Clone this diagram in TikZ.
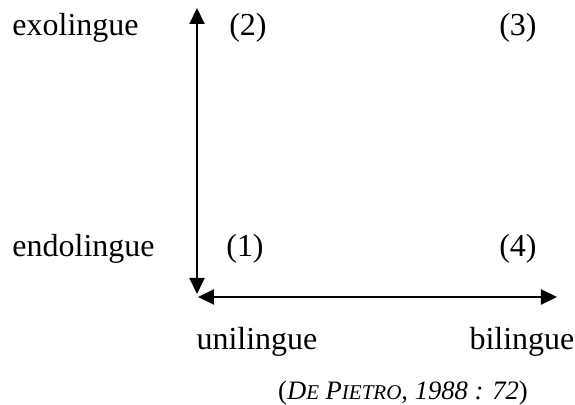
\documentclass[tikz,border=0pt]{standalone}
\usepackage{fontspec}
\setmainfont{Liberation Serif}
\usetikzlibrary{arrows.meta}

\begin{document}
\begin{tikzpicture}[x=0.5pt,y=-0.5pt,font=\fontsize{16}{19}\selectfont,
  axe/.style={{Triangle[length=8pt,width=7.5pt]}-{Triangle[length=8pt,width=7.5pt]}, line width=1pt}]
\useasboundingbox (0,0) rectangle (575,405);

% axes
\coordinate (ytop) at (197,8);
\coordinate (ybot) at (197,294);
\coordinate (xleft) at (198,297);
\coordinate (xright) at (557,297);
\draw[axe] (ytop) -- (ybot);
\draw[axe] (xleft) -- (xright);

% labels
\node[anchor=base west, inner sep=0pt] (exo) at (12,36) {exolingue};
\node[anchor=base west, inner sep=0pt] (endo) at (12,257) {endolingue};
\node[anchor=base, inner sep=0pt] (uni) at (257,350) {unilingue};
\node[anchor=base, inner sep=0pt] (bi) at (522,350) {bilingue};

\node[anchor=base, inner sep=0pt] (c2) at (248,36) {(2)};
\node[anchor=base, inner sep=0pt] (c3) at (518,36) {(3)};
\node[anchor=base, inner sep=0pt] (c1) at (245,257) {(1)};
\node[anchor=base, inner sep=0pt] (c4) at (518,257) {(4)};

\node[anchor=base, inner sep=0pt, font=\fontsize{13.3}{16}\selectfont] (source) at (403,400)
  {(\textit{D{\fontsize{10.5}{12}\selectfont E} P{\fontsize{10.5}{12}\selectfont IETRO}, 1988 : 72})};
\end{tikzpicture}
\end{document}
